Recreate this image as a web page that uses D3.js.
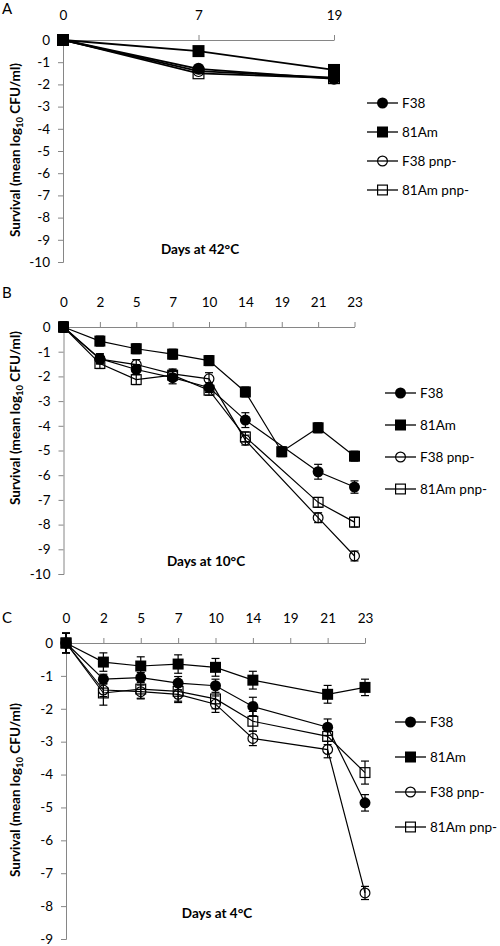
<!DOCTYPE html>
<html><head><meta charset="utf-8">
<script src="https://cdn.jsdelivr.net/npm/d3@7"></script>
<style>body{margin:0;background:#fff} svg{display:block}</style>
</head><body><svg id="c" width="500" height="946"></svg>
<script>
// ---------- DATA ----------
const seriesNames = ["F38", "81Am", "F38 pnp-", "81Am pnp-"];

const daysA = ["0", "7", "19"];
const A_F38      = [0, -1.30, -1.75];
const A_81Am     = [0, -0.50, -1.35];
const A_F38pnp   = [0, -1.40, -1.70];
const A_81Ampnp  = [0, -1.50, -1.72];

const daysB = ["0", "2", "5", "7", "10", "14", "19", "21", "23"];
const B_F38      = [0, -1.28, -1.72, -2.05, -2.45, -3.77, null, -5.86, -6.48];
const B_81Am     = [0, -0.57, -0.88, -1.10, -1.36, -2.63, -5.05, -4.08, -5.23];
const B_F38pnp   = [0, -1.30, -1.52, -1.90, -2.10, -4.58, null, -7.72, -9.27];
const B_81Ampnp  = [0, -1.48, -2.13, -1.95, -2.56, -4.45, null, -7.10, -7.90];
const B_F38err     = [0.2, 0.2, 0.2, 0.25, 0.2, 0.3, 0, 0.3, 0.25];
const B_81Amerr    = [0.2, 0.2, 0.2, 0.2, 0.2, 0.2, 0.2, 0.2, 0.2];
const B_F38pnperr  = [0.2, 0.2, 0.2, 0.2, 0.25, 0.2, 0, 0.2, 0.2];
const B_81Ampnperr = [0.2, 0.2, 0.2, 0.2, 0.2, 0.2, 0, 0.2, 0.2];

const daysC = ["0", "2", "5", "7", "10", "14", "19", "21", "23"];
const C_F38      = [0, -1.10, -1.05, -1.22, -1.30, -1.93, null, -2.56, -4.86];
const C_81Am     = [0, -0.58, -0.70, -0.64, -0.74, -1.13, null, -1.56, -1.35];
const C_F38pnp   = [0, -1.43, -1.48, -1.56, -1.86, -2.90, null, -3.24, -7.60];
const C_81Ampnp  = [0, -1.52, -1.40, -1.47, -1.70, -2.38, null, -2.84, -3.94];
const C_F38err     = [0.3, 0.15, 0.15, 0.2, 0.2, 0.28, 0, 0.25, 0.25];
const C_81Amerr    = [0.3, 0.28, 0.28, 0.28, 0.27, 0.27, 0, 0.27, 0.25];
const C_F38pnperr  = [0.3, 0.2, 0.2, 0.25, 0.25, 0.22, 0, 0.25, 0.2];
const C_81Ampnperr = [0.3, 0.37, 0.3, 0.3, 0.3, 0.3, 0, 0.25, 0.35];

const yTicksA = d3.range(0, -11, -1);
const yTicksB = d3.range(0, -11, -1);
const yTicksC = d3.range(0, -10, -1);

// ---------- LAYOUT ----------
const panels = [
  {letter: "A", letterY: 14, days: daysA, ticks: yTicksA, ymin: -10,
   vals: [A_F38, A_81Am, A_F38pnp, A_81Ampnp], errs: null,
   x0: 63, x1: 334, yTop: 40, yBot: 262, xLabY: 20,
   title: "Days at 42°C", titleX: 200, titleY: 254, yTitleY: 150,
   legX: 367, legY0: 103, legDY: 29, mk: 12, lw: 1.8},
  {letter: "B", letterY: 298, days: daysB, ticks: yTicksB, ymin: -10,
   vals: [B_F38, B_81Am, B_F38pnp, B_81Ampnp],
   errs: [B_F38err, B_81Amerr, B_F38pnperr, B_81Ampnperr],
   x0: 63.5, x1: 354.5, yTop: 327, yBot: 574, xLabY: 307,
   title: "Days at 10°C", titleX: 206, titleY: 566, yTitleY: 418,
   legX: 385, legY0: 393, legDY: 32, mk: 11, lw: 1.2},
  {letter: "C", letterY: 623, days: daysC, ticks: yTicksC, ymin: -9,
   vals: [C_F38, C_81Am, C_F38pnp, C_81Ampnp],
   errs: [C_F38err, C_81Amerr, C_F38pnperr, C_81Ampnperr],
   x0: 66, x1: 365, yTop: 643, yBot: 939, xLabY: 623,
   title: "Days at 4°C", titleX: 217, titleY: 918, yTitleY: 790,
   legX: 395, legY0: 722, legDY: 35, mk: 11, lw: 1.2}
];

const FONT = "Lato, 'Open Sans', sans-serif";
const AX = "#868686";
const svg = d3.select("#c");

// marker drawing: series 0 filled circle, 1 filled square, 2 open circle, 3 open square
function marker(g, idx, cx, cy, size) {
  const filled = idx < 2;
  if (idx % 2 === 0) {
    g.append("circle").attr("cx", cx).attr("cy", cy).attr("r", size / 2 - (filled ? 0 : 0.6))
      .attr("fill", filled ? "#000" : "none").attr("stroke", "#000").attr("stroke-width", filled ? 0 : 1.2);
  } else {
    const s = filled ? size : size - 1.2;
    g.append("rect").attr("x", cx - s / 2).attr("y", cy - s / 2).attr("width", s).attr("height", s)
      .attr("fill", filled ? "#000" : "none").attr("stroke", "#000").attr("stroke-width", filled ? 0 : 1.2);
  }
}

panels.forEach(p => {
  const g = svg.append("g");
  const x = d3.scalePoint().domain(p.days).range([p.x0, p.x1]).padding(0);
  const y = d3.scaleLinear().domain([0, p.ymin]).range([p.yTop, p.yBot]);

  // panel letter
  g.append("text").attr("x", 2).attr("y", p.letterY).text(p.letter)
    .attr("font-family", FONT).attr("font-size", 15).attr("fill", "#000");

  // y axis
  const yAxis = d3.axisLeft(y).tickValues(p.ticks).tickSize(5).tickPadding(8).tickFormat(d3.format("d"));
  const ya = g.append("g").attr("transform", `translate(${p.x0},0)`).call(yAxis);
  ya.select(".domain").attr("stroke", AX);
  ya.selectAll(".tick line").attr("stroke", AX);
  ya.selectAll(".tick text").attr("font-family", FONT).attr("font-size", 13.5).attr("fill", "#000")
    .text(d => d === 0 ? "0" : "-" + Math.abs(d));

  // x axis at y=0, ticks up, labels above
  const xAxis = d3.axisTop(x).tickSize(5).tickSizeOuter(0).tickPadding(0);
  const xa = g.append("g").attr("transform", `translate(0,${y(0)})`).call(xAxis);
  xa.select(".domain").attr("stroke", AX);
  xa.selectAll(".tick line").attr("stroke", AX);
  xa.selectAll(".tick text").attr("font-family", FONT).attr("font-size", 13.5).attr("fill", "#000")
    .attr("y", p.xLabY - y(0)).attr("dy", 0);

  // axis titles
  const yt = g.append("text").attr("transform", `translate(20,${p.yTitleY}) rotate(-90)`)
    .attr("text-anchor", "middle").attr("font-family", FONT).attr("font-size", 13.5)
    .attr("font-weight", "bold").attr("fill", "#000");
  yt.append("tspan").text("Survival (mean log");
  yt.append("tspan").text("10").attr("font-size", 9.5).attr("dy", 3);
  yt.append("tspan").text(" CFU/ml)").attr("dy", -3);

  g.append("text").attr("x", p.titleX).attr("y", p.titleY).attr("text-anchor", "middle")
    .attr("font-family", FONT).attr("font-size", 13.5).attr("font-weight", "bold").attr("fill", "#000")
    .text(p.title);

  // series
  const line = d3.line().x(d => x(d.day)).y(d => y(d.v));
  const order = [2, 3, 0, 1];
  order.forEach(si => {
    const pts = p.vals[si].map((v, i) => ({day: p.days[i], v, e: p.errs ? p.errs[si][i] : 0}))
      .filter(d => d.v !== null);
    g.append("path").datum(pts).attr("d", line).attr("fill", "none")
      .attr("stroke", "#000").attr("stroke-width", p.lw);
  });
  order.forEach(si => {
    const pts = p.vals[si].map((v, i) => ({day: p.days[i], v, e: p.errs ? p.errs[si][i] : 0}))
      .filter(d => d.v !== null);
    pts.forEach(d => marker(g, si, x(d.day), y(d.v), p.mk));
    pts.filter(d => d.e > 0).forEach(d => {
      const cx = x(d.day), ya1 = y(d.v + d.e), ya2 = y(d.v - d.e);
      g.append("line").attr("x1", cx).attr("x2", cx).attr("y1", ya1).attr("y2", ya2)
        .attr("stroke", "#000").attr("stroke-width", 1.2);
      [ya1, ya2].forEach(yy => g.append("line").attr("x1", cx - 4).attr("x2", cx + 4)
        .attr("y1", yy).attr("y2", yy).attr("stroke", "#000").attr("stroke-width", 1.2));
    });
  });

  // legend
  seriesNames.forEach((name, si) => {
    const ly = p.legY0 + si * p.legDY;
    g.append("line").attr("x1", p.legX).attr("x2", p.legX + 31).attr("y1", ly).attr("y2", ly)
      .attr("stroke", "#000").attr("stroke-width", 1.3);
    marker(g, si, p.legX + 15.5, ly, 11);
    g.append("text").attr("x", p.legX + 35).attr("y", ly).attr("dy", "0.35em")
      .attr("font-family", FONT).attr("font-size", 13.5).attr("fill", "#000").text(name);
  });
});
</script>
</body></html>
